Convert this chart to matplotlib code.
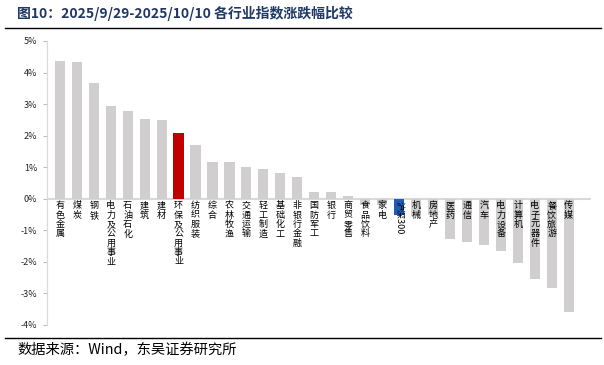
import matplotlib
matplotlib.use('Agg')
import matplotlib.pyplot as plt

plt.rcParams['font.family'] = ['Noto Sans CJK SC', 'DejaVu Sans']

# 行业及区间涨跌幅(%)
industries = ['有色金属', '煤炭', '钢铁', '电力及公用事业', '石油石化', '建筑', '建材',
              '环保及公用事业', '纺织服装', '综合', '农林牧渔', '交通运输', '轻工制造',
              '基础化工', '非银行金融', '国防军工', '银行', '商贸零售', '食品饮料', '家电',
              '沪深300', '机械', '房地产', '医药', '通信', '汽车', '电力设备', '计算机',
              '电子元器件', '餐饮旅游', '传媒']
changes = [4.38, 4.32, 3.68, 2.94, 2.79, 2.53, 2.49, 2.08, 1.69, 1.17, 1.15, 1.02, 0.93,
           0.83, 0.69, 0.22, 0.22, 0.09, -0.19, -0.19, -0.51, -0.56, -0.50, -1.27, -1.38,
           -1.46, -1.65, -2.02, -2.55, -2.83, -3.58]
yticks = [5, 4, 3, 2, 1, 0, -1, -2, -3, -4]

colors = []
for name in industries:
    if name == '环保及公用事业':
        colors.append('#C00000')
    elif name == '沪深300':
        colors.append('#1F5AB4')
    else:
        colors.append('#D0CECE')

fig = plt.figure(figsize=(6.04, 3.65), dpi=100)
ax = fig.add_axes([0.078, 0.1096, 0.9, 0.7781])

x = list(range(len(industries)))
ax.bar(x, changes, width=0.6, color=colors, zorder=2)
ax.axhline(0, color='#D9D9D9', lw=1.5, zorder=1)

ax.set_xlim(-0.75, 31.3)
ax.set_ylim(-4, 5)
ax.set_yticks(yticks)
ax.set_yticklabels([f'{t}%' for t in yticks], fontsize=6.5, color='#222222')
ax.tick_params(axis='y', length=3, color='#BFBFBF', pad=4)
ax.set_xticks([])

for s in ['top', 'right', 'bottom']:
    ax.spines[s].set_visible(False)
ax.spines['left'].set_color('#D9D9D9')

# 竖排行业名称
for i, name in enumerate(industries):
    if name == '沪深300':
        ax.text(i, -0.06, name, rotation=-90, ha='center', va='top',
                fontsize=6.5, color='black', zorder=3)
    else:
        ax.text(i, -0.08, '\n'.join(name), ha='center', va='top',
                fontsize=6.5, color='black', linespacing=1.05, zorder=3)

fig.text(0.028, 0.962, '图10：2025/9/29-2025/10/10 各行业指数涨跌幅比较',
         fontsize=10, fontweight='bold', color='#1F3864', va='center')
fig.add_artist(plt.Line2D([0.008, 0.995], [0.923, 0.923], color='black', lw=1))
fig.add_artist(plt.Line2D([0.008, 0.995], [0.074, 0.074], color='black', lw=1))
fig.text(0.028, 0.04, '数据来源：Wind，东吴证券研究所', fontsize=10.3, color='black', va='center')

fig.savefig('out.png', dpi=100)
